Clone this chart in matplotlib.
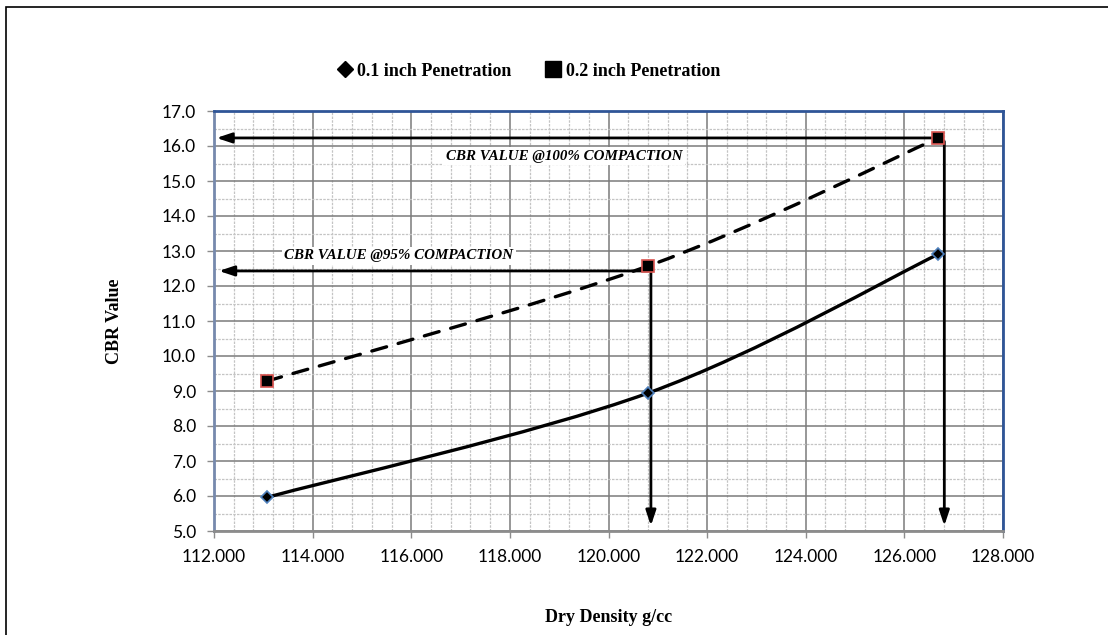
import numpy as np
import matplotlib
matplotlib.use("Agg")
import matplotlib.pyplot as plt
from matplotlib.path import Path
from matplotlib.patches import PathPatch, Rectangle
from matplotlib.lines import Line2D
from matplotlib.ticker import MultipleLocator, FormatStrFormatter

# ---- data ----
dry_density = [113.07, 120.80, 126.69]
cbr_01 = [5.96, 8.94, 12.91]
cbr_02 = [9.28, 12.57, 16.23]
series_labels = ["0.1 inch Penetration", "0.2 inch Penetration"]
x_label = "Dry Density g/cc"
y_label = "CBR Value"
note_100 = "CBR VALUE @100% COMPACTION"
note_95 = "CBR VALUE @95% COMPACTION"
cbr_at_95_line = 12.43

XMIN, XMAX = 112.0, 128.0
YMIN, YMAX = 5.0, 17.0

fig = plt.figure(figsize=(11.08, 6.35), dpi=100)
ax = fig.add_axes([214/1108, 1-531/635, (1003-214)/1108, (531-111)/635])

# outer frame of the chart object
fig.patches.append(Rectangle((6/1108, -0.05), 1.2, 1 - 7/635 + 0.05,
                             transform=fig.transFigure, fill=False,
                             edgecolor="black", lw=1.2, zorder=0))

def smooth_path(xs, ys):
    P = np.column_stack([xs, ys]).astype(float)
    n = len(P)
    verts = [P[0]]
    codes = [Path.MOVETO]
    for i in range(n - 1):
        p_prev = P[i - 1] if i > 0 else P[i]
        p_next2 = P[i + 2] if i + 2 < n else P[i + 1]
        c1 = P[i] + (P[i + 1] - p_prev) / 6.0
        c2 = P[i + 1] - (p_next2 - P[i]) / 6.0
        verts += [c1, c2, P[i + 1]]
        codes += [Path.CURVE4] * 3
    return Path(verts, codes)

ax.set_xlim(XMIN, XMAX)
ax.set_ylim(YMIN, YMAX)

# smoothed series lines
ax.add_patch(PathPatch(smooth_path(dry_density, cbr_01), fill=False,
                       edgecolor="black", lw=2.4, zorder=3, capstyle="butt"))
ax.add_patch(PathPatch(smooth_path(dry_density, cbr_02), fill=False,
                       edgecolor="black", lw=2.4, zorder=3,
                       linestyle=(0, (4.6, 3.6)), capstyle="round"))

# markers
ax.plot(dry_density, cbr_01, linestyle="None", marker="D", markersize=6,
        markerfacecolor="black", markeredgecolor="#4f81bd", markeredgewidth=1.2, zorder=5)
ax.plot(dry_density, cbr_02, linestyle="None", marker="s", markersize=9,
        markerfacecolor="black", markeredgecolor="#d9534f", markeredgewidth=1.2, zorder=5)

# arrows
arrow_kw = dict(arrowstyle="-|>,head_length=0.9,head_width=0.3", color="black",
                lw=2.0, shrinkA=0, shrinkB=0)
x100, y100 = dry_density[2], cbr_02[2]
ax.annotate("", xy=(XMIN + 0.05, y100), xytext=(x100, y100), arrowprops=arrow_kw, zorder=4)
ax.annotate("", xy=(x100 + 0.12, YMIN + 0.15), xytext=(x100 + 0.12, y100 - 0.1),
            arrowprops=arrow_kw, zorder=4)
x95 = dry_density[1]
ax.annotate("", xy=(XMIN + 0.1, cbr_at_95_line), xytext=(x95, cbr_at_95_line),
            arrowprops=arrow_kw, zorder=4)
ax.annotate("", xy=(x95 + 0.06, YMIN + 0.15), xytext=(x95 + 0.06, cbr_at_95_line),
            arrowprops=arrow_kw, zorder=4)

# notes
note_kw = dict(fontsize=10.8, fontweight="bold", fontstyle="italic",
               family="Liberation Serif", ha="center", va="center", zorder=4,
               bbox=dict(facecolor="white", edgecolor="none", pad=2))
ax.text(119.10, 15.71, note_100, **note_kw)
ax.text(115.75, 12.86, note_95, **note_kw)

# grid & ticks
ax.xaxis.set_major_locator(MultipleLocator(2.0))
ax.xaxis.set_minor_locator(MultipleLocator(0.4))
ax.yaxis.set_major_locator(MultipleLocator(1.0))
ax.yaxis.set_minor_locator(MultipleLocator(0.5))
ax.xaxis.set_major_formatter(FormatStrFormatter("%.3f"))
ax.yaxis.set_major_formatter(FormatStrFormatter("%.1f"))
ax.grid(which="major", color="#7a7a7a", lw=1.1, zorder=1)
ax.grid(which="minor", color="#c4c4c4", lw=0.9, linestyle=(0, (2, 1)), zorder=1)
ax.set_axisbelow(True)
ax.tick_params(which="major", direction="out", length=5, color="#8c8c8c", width=1,
               labelsize=12.5, pad=8)
ax.tick_params(which="minor", length=0)
for lab in ax.get_xticklabels() + ax.get_yticklabels():
    lab.set_family("Lato")

for side, col in [("left", "#7689ad"), ("bottom", "#8c8c8c"),
                  ("top", "#2f5597"), ("right", "#2f5597")]:
    ax.spines[side].set_color(col)
    ax.spines[side].set_linewidth(2.0)

ax.set_xlabel(x_label, fontsize=13, fontweight="bold", family="Liberation Serif", labelpad=32)
ax.set_ylabel(y_label, fontsize=13, fontweight="bold", family="Liberation Serif", labelpad=28)

# legend
handles = [Line2D([], [], linestyle="None", marker="D", markersize=8, color="black"),
           Line2D([], [], linestyle="None", marker="s", markersize=11, color="black")]
fig.legend(handles, series_labels, loc="center", bbox_to_anchor=(528/1108, 1-71/635),
           ncol=2, frameon=False, handletextpad=0.2, columnspacing=1.8,
           handlelength=1.0, prop=dict(family="Liberation Serif", weight="bold", size=13))

fig.savefig("out.png", dpi=100)
